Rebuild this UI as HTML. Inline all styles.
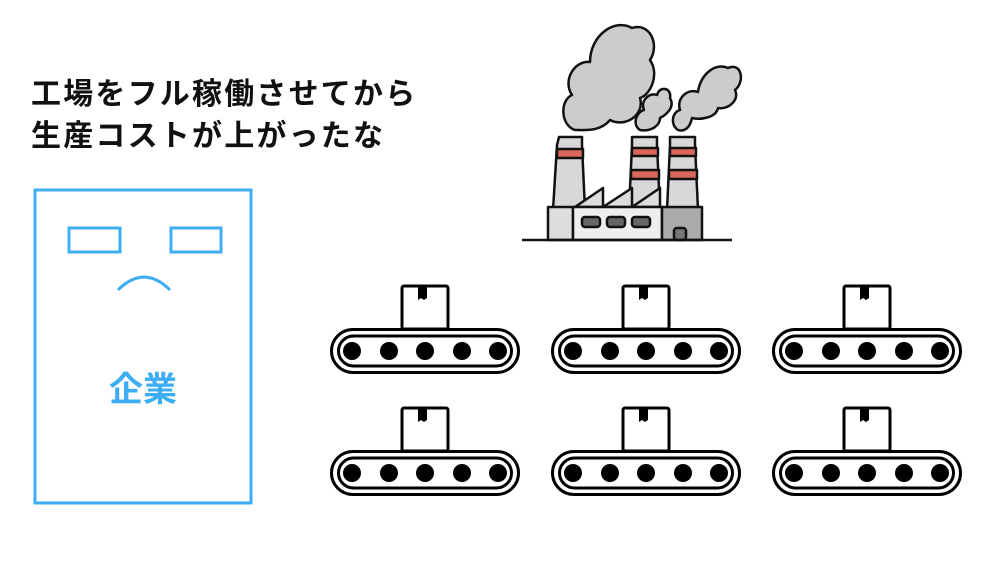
<!DOCTYPE html>
<html><head><meta charset="utf-8"><style>
body{margin:0;width:1000px;height:562px;background:#fff;overflow:hidden;position:relative;font-family:"Liberation Sans","Noto Sans CJK JP",sans-serif}
.t{position:absolute;left:31px;font-size:30px;font-weight:bold;color:#111;white-space:nowrap;line-height:42px;letter-spacing:2.2px}
</style></head><body>
<div class="t" style="top:74px">工場をフル稼働させてから</div>
<div class="t" style="top:116px">生産コストが上がったな</div>
<svg width="1000" height="562" style="position:absolute;left:0;top:0">
<rect x="35" y="190" width="216" height="313" fill="none" stroke="#3daef5" stroke-width="3"/>
<rect x="69" y="228" width="51" height="24" fill="none" stroke="#3daef5" stroke-width="3"/>
<rect x="171" y="228" width="50" height="24" fill="none" stroke="#3daef5" stroke-width="3"/>
<path d="M118 290 Q144 264 170 290" fill="none" stroke="#3daef5" stroke-width="3"/>
<text x="143" y="401" text-anchor="middle" font-size="34" font-weight="bold" fill="#3daef5" font-family="Liberation Sans,Noto Sans CJK JP,sans-serif">企業</text>
<defs>
<g id="cv">
<rect x="402" y="286" width="46" height="43" fill="#fff" stroke="#000" stroke-width="3" rx="2"/>
<path d="M418 287 v13 l3 -2 l3 2 l3 -2 v-11z" fill="#000"/>
<rect x="331.5" y="329.5" width="187" height="43" rx="21.5" fill="#fff" stroke="#000" stroke-width="3"/>
<rect x="338.5" y="336" width="173" height="30" rx="15" fill="none" stroke="#000" stroke-width="3"/>
<circle cx="352" cy="351" r="9"/><circle cx="389" cy="351" r="9"/><circle cx="425" cy="351" r="9"/><circle cx="462" cy="351" r="9"/><circle cx="498" cy="351" r="9"/>
</g>
</defs>
<use href="#cv"/><use href="#cv" x="221"/><use href="#cv" x="442"/>
<use href="#cv" y="122"/><use href="#cv" x="221" y="122"/><use href="#cv" x="442" y="122"/>
<g stroke="#111" stroke-width="2.5" stroke-linejoin="round">
<path d="M575 130 C560 125 560 100 572 95 C562 80 575 60 590 62 C590 35 615 18 632 28 C650 22 660 45 650 60 C660 75 650 95 640 98 C645 115 625 128 610 120 C600 132 585 130 575 130Z" fill="#ccc"/>
<path d="M640 130 C632 125 636 112 644 110 C640 100 650 92 657 95 C660 85 672 88 670 98 C676 108 664 116 660 118 C660 126 650 132 640 130Z" fill="#ccc"/>
<path d="M678 130 C670 125 672 112 680 110 C676 98 688 88 698 92 C700 75 715 62 728 68 C742 62 745 82 735 90 C740 100 728 110 718 108 C716 118 700 120 692 118 C690 128 684 132 678 130Z" fill="#ccc"/>
<path d="M559 137 H582 V145 L585 210 H553 L557 145 Z" fill="#d8d8d8"/>
<rect x="557" y="149" width="26" height="9" fill="#d9685a"/>
<path d="M632 137 H657 V145 L660 210 H629 L632 145 Z" fill="#d8d8d8"/>
<rect x="632" y="148" width="26" height="8" fill="#d9685a"/><rect x="631" y="170" width="28" height="9" fill="#d9685a"/>
<path d="M670 137 H695 V145 L698 210 H667 L670 145 Z" fill="#d8d8d8"/>
<rect x="670" y="148" width="26" height="8" fill="#d9685a"/><rect x="669" y="170" width="28" height="9" fill="#d9685a"/>
<path d="M575 207 L603 188 V207 Z M603 207 L632 188 V207Z M632 207 L660 188 V207Z" fill="#ddd"/>
<rect x="548" y="207" width="25" height="33" fill="#ddd"/>
<rect x="573" y="207" width="89" height="33" fill="#eee"/>
<rect x="662" y="207" width="40" height="33" fill="#aaa"/>
<rect x="582" y="217" width="18" height="10" rx="3" fill="#666"/><rect x="607" y="217" width="18" height="10" rx="3" fill="#666"/><rect x="632" y="217" width="18" height="10" rx="3" fill="#666"/>
<rect x="674" y="228" width="12" height="12" rx="3" fill="#777"/>
<line x1="522" y1="240" x2="732" y2="240"/>
</g>
</svg>
</body></html>
